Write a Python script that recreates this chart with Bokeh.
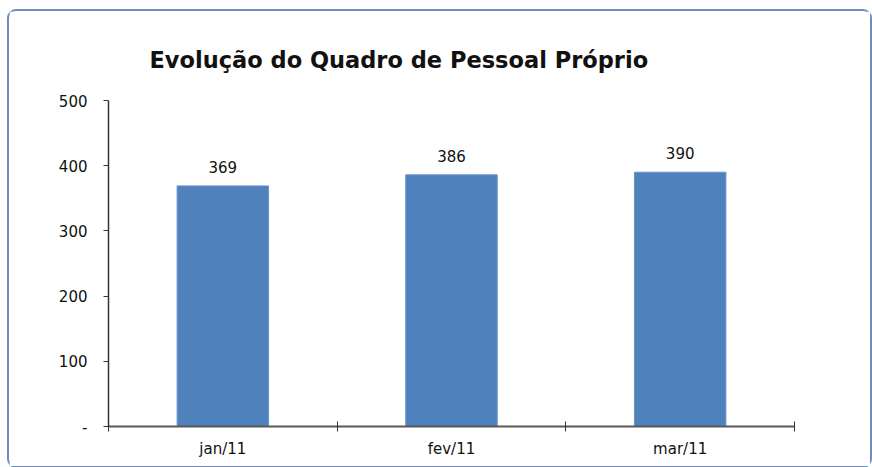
import numpy as np
from bokeh.plotting import figure
from bokeh.models import ColumnDataSource, FixedTicker, Range1d
from bokeh.core.properties import value
from bokeh.embed import file_html
from bokeh.resources import INLINE

title_text = "Evolução do Quadro de Pessoal Próprio"
categories = ["jan/11", "fev/11", "mar/11"]
values = [369, 386, 390]
y_ticks = [0, 100, 200, 300, 400, 500]
y_labels = ["-", "100", "200", "300", "400", "500"]

xpos = np.arange(len(categories)) + 0.5
src = ColumnDataSource(dict(x=xpos, top=values, label=[str(v) for v in values]))

p = figure(width=865, height=459, output_backend="svg", toolbar_location=None,
           x_range=Range1d(0, len(categories)), y_range=Range1d(0, 500),
           min_border_left=99, min_border_right=80, min_border_top=89, min_border_bottom=44)
p.margin = (9, 0, 0, 7)
p.styles = {"border": "2px solid #6F8DB5", "border-radius": "9px", "box-sizing": "border-box"}
p.outline_line_color = None
p.grid.visible = False
p.background_fill_color = "white"
p.border_fill_color = "white"

p.title.text = title_text
p.title.align = "left"
p.title.offset = 41
p.title.text_font = "DejaVu Sans"
p.title.text_font_size = "22.5px"
p.title.text_font_style = "bold"
p.title.text_color = "#111111"
p.title.standoff = 56

p.vbar(x="x", top="top", width=0.4, source=src, fill_color="#4F81BD", line_color="#6A93C8", line_width=1)
p.text(x="x", y="top", text="label", source=src, text_align="center", text_baseline="bottom",
       y_offset=-13, text_font=value("DejaVu Sans"), text_font_size="15px", text_color="#111111")

xa = p.xaxis[0]
xa.ticker = FixedTicker(ticks=list(xpos), minor_ticks=list(range(len(categories) + 1)))
xa.major_label_overrides = {float(x): c for x, c in zip(xpos, categories)}
xa.major_tick_line_color = None
xa.minor_tick_in = 5
xa.minor_tick_out = 5
xa.minor_tick_line_color = "#333333"
xa.axis_line_color = "#595959"
xa.axis_line_width = 2
xa.major_label_standoff = 7
xa.major_label_text_font = "DejaVu Sans"
xa.major_label_text_font_size = "15px"
xa.major_label_text_color = "#111111"

ya = p.yaxis[0]
ya.ticker = FixedTicker(ticks=y_ticks, minor_ticks=[])
ya.major_label_overrides = {t: l for t, l in zip(y_ticks, y_labels)}
ya.major_tick_in = 0
ya.major_tick_out = 5
ya.major_tick_line_color = "#333333"
ya.axis_line_color = "#333333"
ya.axis_line_width = 1.5
ya.major_label_standoff = 16
ya.major_label_text_font = "DejaVu Sans"
ya.major_label_text_font_size = "15px"
ya.major_label_text_color = "#111111"

open("out.html", "w").write(file_html(p, INLINE))
